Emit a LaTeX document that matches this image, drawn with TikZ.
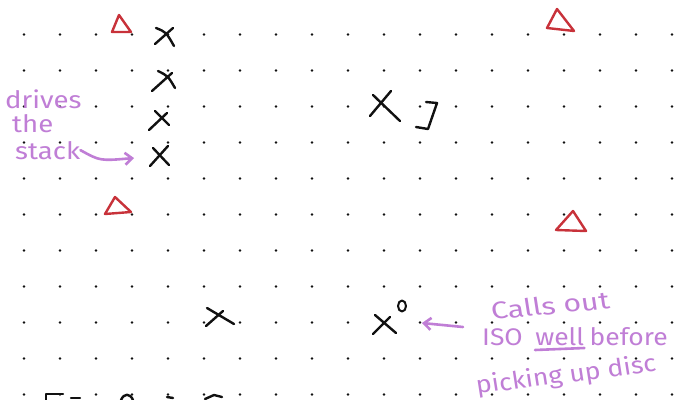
\documentclass[tikz,border=0pt]{standalone}
\usepackage{fontspec}
\newfontfamily\handfont{Fira Sans}
\usetikzlibrary{arrows.meta}
\definecolor{inkblack}{HTML}{111111}
\definecolor{inkred}{HTML}{C8323A}
\definecolor{inkpurple}{HTML}{C07ED6}

\begin{document}
\begin{tikzpicture}[x=1pt, y=-1pt,
    inkstroke/.style={draw=inkblack, line width=2.4pt, line cap=round, line join=round},
    redstroke/.style={draw=inkred, line width=2.4pt, line cap=round, line join=round},
    penstroke/.style={draw=inkpurple, line width=2.6pt, line cap=round, line join=round},
    pentext/.style={inkpurple, font=\handfont\fontsize{24}{28}\selectfont,
                    inner sep=0pt, anchor=base west, xscale=1.15},
    barb/.style={-{Straight Barb[length=7pt, width=12pt]}}]

%% ==== 紙面與點格 ======================================================
\useasboundingbox (0,0) rectangle (676,399);
\fill[white] (0,0) rectangle (676,399);
\foreach \i in {0,...,18}
  \foreach \j in {0,...,10}
    \fill[inkblack] (24+36*\i,34.5+36*\j) circle (1.3pt);

%% ==== 紅色三角形 ======================================================
\draw[redstroke] (112,32) -- (119,15) -- (131,32) -- cycle;
\draw[redstroke] (105,214) -- (115,197) -- (131,212) -- cycle;
\draw[redstroke] (547,28) -- (557,9) -- (574,31) -- cycle;
\draw[redstroke] (556,230) -- (573,211) -- (586,231) -- cycle;

%% ==== 左邊一疊 X ======================================================
\draw[inkstroke] (156,28) .. controls (166,32) .. (174,46);
\draw[inkstroke] (173,28) -- (155,44);
\draw[inkstroke] (158,71) .. controls (168,76) .. (175,88);
\draw[inkstroke] (172,73) -- (152,91);
\draw[inkstroke] (155,111) -- (169,125);
\draw[inkstroke] (167,113) -- (149,130);
\draw[inkstroke] (153,148) -- (169,165);
\draw[inkstroke] (168,146) -- (150,166);

%% ==== 中上方的 X 與括號 ===============================================
\draw[inkstroke] (373,95) -- (400,121);
\draw[inkstroke] (391,91) -- (370,116);
\draw[inkstroke] (426,102) -- (437,103) -- (428,129) -- (416,127);

%% ==== 下方兩個 X ======================================================
\draw[inkstroke] (207,308) -- (234,324);
\draw[inkstroke] (223,311) -- (206,326);
\draw[inkstroke] (375,315) -- (396,333);
\draw[inkstroke] (390,317) -- (373,334);
\draw[inkstroke, line width=2pt] (402,306) ellipse [x radius=4, y radius=5.5];

%% ==== 底邊被裁掉的筆跡 ================================================
\draw[inkstroke] (46,400) -- (46,394) -- (63,394);
\draw[inkstroke] (71,398) -- (80,398);
\draw[inkstroke] (121,400) .. controls (124,393) and (130,393) .. (133,400);
\draw[inkstroke] (167,397) -- (173,398);
\draw[inkstroke] (205,399) -- (214,395) -- (222,397);

%% ==== 左邊註記 ========================================================
\node[pentext] (drv) at (5,108) {drives};
\node[pentext] (the) at (12,132) {the};
\node[pentext] (stk) at (15,159) {stack};
\coordinate (xfour) at (134,158);
\draw[penstroke, barb] (stk.east) .. controls (100,161) .. (xfour);

%% ==== 右下註記 ========================================================
\node[pentext, xscale=1.1, rotate=7] (calls) at (492,320) {Calls out};
\node[pentext, xscale=0.96] (iso) at (482,345) {ISO};
\node[pentext, xscale=0.96] (well) at ([xshift=12pt]iso.base east) {well};
\node[pentext, xscale=0.96] (before) at ([xshift=5pt]well.base east) {before};
\node[pentext, xscale=0.97, rotate=8] (pick) at (477,394) {picking up disc};
\draw[penstroke] ([yshift=-5pt]well.base west) -- ([yshift=-3pt]well.base east);
\coordinate (calltail) at (463,327);
\coordinate (xzero) at (422,323);
\draw[penstroke, barb] (calltail) -- (xzero);

\end{tikzpicture}
\end{document}
